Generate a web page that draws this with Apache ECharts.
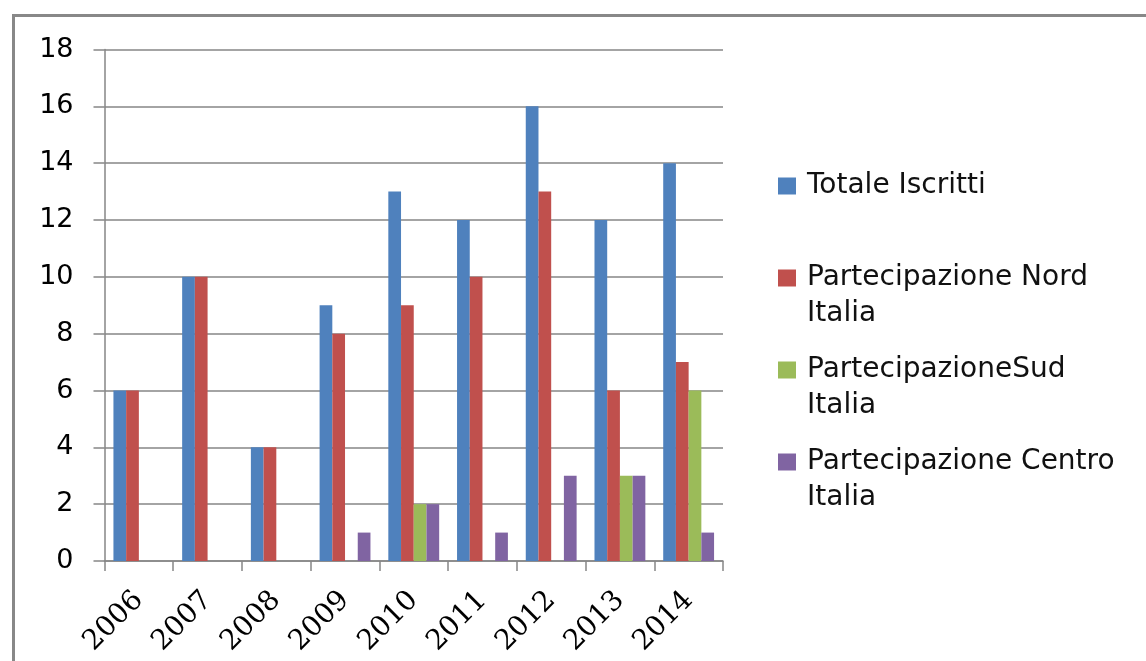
<!DOCTYPE html>
<html>
<head>
<meta charset="utf-8">
<script src="https://cdn.jsdelivr.net/npm/echarts@6/dist/echarts.min.js"></script>
<style>
html,body{margin:0;padding:0;background:#fff;}
#frame{position:absolute;left:12px;top:14px;width:1134px;height:647px;border-top:3px solid #888;border-left:3px solid #888;box-sizing:border-box;}
#chart{position:absolute;left:0;top:0;width:1146px;height:661px;}
</style>
</head>
<body>
<div id="frame"></div>
<div id="chart"></div>
<script>
var categories = ['2006','2007','2008','2009','2010','2011','2012','2013','2014'];
var seriesNames = ['Totale Iscritti','Partecipazione Nord Italia','PartecipazioneSud Italia','Partecipazione Centro Italia'];
var legendLabels = ['Totale Iscritti','\nPartecipazione Nord\nItalia','\nPartecipazioneSud\nItalia','\nPartecipazione Centro\nItalia'];
var totale = [6,10,4,9,13,12,16,12,14];
var nord   = [6,10,4,8,9,10,13,6,7];
var sud    = [0,0,0,0,2,0,0,3,6];
var centro = [0,0,0,1,2,1,3,3,1];
var yTicks = {min:0, max:18, interval:2};

var colors = ['#4F81BD','#C0504D','#9BBB59','#8064A2'];
var values = [totale, nord, sud, centro];
var legendTops = [168, 224, 316, 408];

var chart = echarts.init(document.getElementById('chart'), null, {renderer:'canvas'});
var legends = seriesNames.map(function(n, i){
  return {
    data:[n], left:778, top:legendTops[i], orient:'vertical', padding:0,
    icon:'rect', itemWidth:18, itemHeight:17, itemGap:11,
    selectedMode:false,
    formatter:function(){ return legendLabels[i]; },
    textStyle:{fontFamily:'DejaVu Sans', fontSize:28, color:'#111', lineHeight:36, padding:[0,0,0,6]}
  };
});
chart.setOption({
  animation:false,
  color:colors,
  grid:{left:104.5, right:423, top:49.5, bottom:100, containLabel:false},
  legend:legends,
  xAxis:{
    type:'category', data:categories, boundaryGap:true,
    axisLine:{show:true, lineStyle:{color:'#868686', width:1.5}},
    axisTick:{show:true, length:10, lineStyle:{color:'#868686', width:1.5}},
    axisLabel:{rotate:45, margin:35, fontFamily:'DejaVu Serif', fontSize:28, color:'#000', interval:0},
    splitLine:{show:false}
  },
  yAxis:{
    type:'value', min:yTicks.min, max:yTicks.max, interval:yTicks.interval,
    axisLine:{show:true, lineStyle:{color:'#868686', width:1.5}},
    axisTick:{show:true, length:11, lineStyle:{color:'#868686', width:1.5}},
    axisLabel:{margin:31, fontFamily:'DejaVu Sans', fontSize:27, color:'#000'},
    splitLine:{show:true, lineStyle:{color:'#868686', width:1.5}}
  },
  series:seriesNames.map(function(n, i){
    return {name:n, type:'bar', data:values[i], barGap:'0%', barCategoryGap:'26%',
      itemStyle:{color:colors[i]}};
  })
});
</script>
</body>
</html>
